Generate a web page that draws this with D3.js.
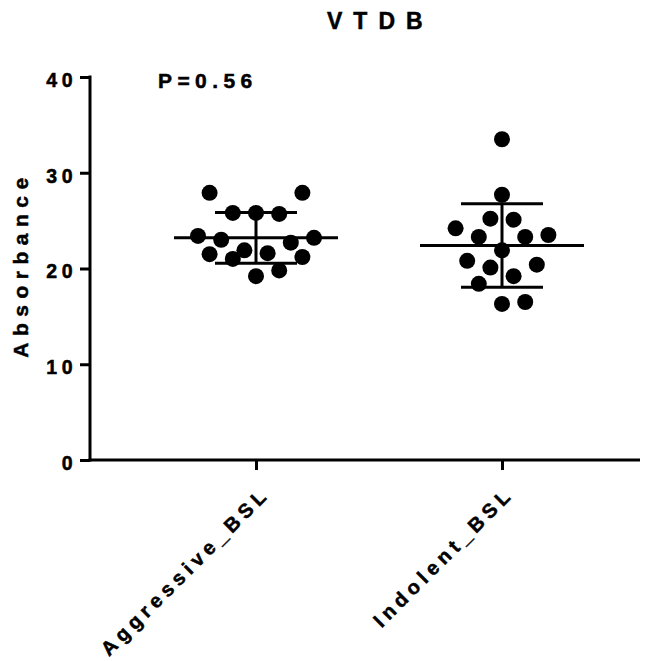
<!DOCTYPE html>
<html>
<head>
<meta charset="utf-8">
<script src="https://cdn.jsdelivr.net/npm/d3@7"></script>
<style>
  body { margin: 0; background: #fff; }
  text { font-family: "Liberation Sans", Arial, sans-serif; font-weight: bold; fill: #000; stroke: #000; stroke-width: 0.5px; }
</style>
</head>
<body>
<div id="main"></div>
<script>
var outerWidth = 662;
var outerHeight = 661;

// data
var categories = ["Aggressive_BSL", "Indolent_BSL"];
var aggressiveValues = [27.9, 27.9, 25.8, 25.8, 25.7, 23.4, 23.0, 23.2, 22.7, 21.5, 21.9, 21.0, 21.6, 21.2, 19.2, 19.8];
var aggressiveSlots  = [-4, 4, -2, 0, 2, -5, -3, 5, 3, -4, -1, -2, 1, 4, 0, 2];
var indolentValues = [33.5, 27.7, 25.2, 25.1, 24.2, 23.3, 23.3, 23.5, 21.9, 20.8, 20.1, 20.4, 19.2, 18.4, 16.3, 16.5];
var indolentSlots  = [0, 0, -1, 1, -4, -2, 2, 4, 0, -3, -1, 3, 1, -2, 0, 2];
var means = [23.2, 22.4];
var sds = [2.65, 4.35];
var yTicks = [0, 10, 20, 30, 40];
var titleText = "VTDB";
var pText = "P=0.56";

var yScale = d3.scaleLinear().domain([0, 40]).range([460, 77]);
var xScale = d3.scalePoint().domain(categories).range([256, 502]);
var slotScale = d3.scaleLinear().domain([-1, 1]).range([-11.6, 11.6]);

var svg = d3.select("#main")
    .append("svg")
    .attr("width", outerWidth)
    .attr("height", outerHeight);

// title
svg.append("text")
    .attr("x", 327)
    .attr("y", 29)
    .style("font-size", "23px")
    .style("letter-spacing", "11px")
    .text(titleText);

// y axis
var yAxis = d3.axisLeft(yScale).tickValues(yTicks).tickSize(10).tickPadding(3);
var yAxisG = svg.append("g")
    .attr("transform", "translate(90,0)")
    .call(yAxis);
yAxisG.select(".domain").remove();
yAxisG.selectAll("line").attr("stroke", "#000").attr("stroke-width", 3);
yAxisG.selectAll("text")
    .attr("dy", "0.48em")
    .style("font-size", "19.5px")
    .style("letter-spacing", "4.5px")
    .attr("fill", "#000");
yAxisG.append("line")
    .attr("x1", 0).attr("x2", 0)
    .attr("y1", yScale(40) - 1.5).attr("y2", yScale(0) + 1.5)
    .attr("stroke", "#000").attr("stroke-width", 3);

svg.append("text")
    .attr("transform", "translate(28," + ((yScale(0) + yScale(40)) / 2 - 4) + ") rotate(-90)")
    .attr("text-anchor", "middle")
    .style("font-size", "21px")
    .style("letter-spacing", "6.5px")
    .text("Absorbance");

// x axis
var xAxis = d3.axisBottom(xScale).tickSize(10).tickFormat("");
var xAxisG = svg.append("g")
    .attr("transform", "translate(0," + yScale(0) + ")")
    .call(xAxis);
xAxisG.select(".domain").remove();
xAxisG.selectAll("line").attr("stroke", "#000").attr("stroke-width", 3);
xAxisG.append("line")
    .attr("x1", 88.5).attr("x2", 640)
    .attr("y1", 0).attr("y2", 0)
    .attr("stroke", "#000").attr("stroke-width", 3);

svg.selectAll(".xlabel")
    .data(categories)
    .enter()
    .append("text")
    .attr("class", "xlabel")
    .attr("text-anchor", "end")
    .attr("transform", (d, i) => "translate(" + (xScale(d) + 15 - i * 2) + ",495) rotate(-45)")
    .style("font-size", "20px")
    .style("letter-spacing", "5px")
    .text(d => d);

// p value
svg.append("text")
    .attr("x", 158)
    .attr("y", 88)
    .style("font-size", "21px")
    .style("letter-spacing", "5.4px")
    .text(pText);

// points
var groups = [
    { cat: categories[0], values: aggressiveValues, slots: aggressiveSlots },
    { cat: categories[1], values: indolentValues, slots: indolentSlots }
];

groups.forEach(function(grp, i) {
    var pts = grp.values.map((v, j) => ({ v: v, s: grp.slots[j] }));
    svg.selectAll(".dot" + i)
        .data(pts)
        .enter()
        .append("circle")
        .attr("class", "dot" + i)
        .attr("cx", d => xScale(grp.cat) + slotScale(d.s))
        .attr("cy", d => yScale(d.v))
        .attr("r", 8)
        .attr("fill", "#000");

    var cx = xScale(grp.cat);
    var m = means[i], sd = sds[i];
    var g = svg.append("g").attr("stroke", "#000").attr("stroke-width", 3);
    g.append("line")
        .attr("x1", cx - 82).attr("x2", cx + 82)
        .attr("y1", yScale(m)).attr("y2", yScale(m));
    g.append("line")
        .attr("x1", cx).attr("x2", cx)
        .attr("y1", yScale(m + sd)).attr("y2", yScale(m - sd));
    g.append("line")
        .attr("x1", cx - 41).attr("x2", cx + 41)
        .attr("y1", yScale(m + sd)).attr("y2", yScale(m + sd));
    g.append("line")
        .attr("x1", cx - 41).attr("x2", cx + 41)
        .attr("y1", yScale(m - sd)).attr("y2", yScale(m - sd));
});
</script>
</body>
</html>
